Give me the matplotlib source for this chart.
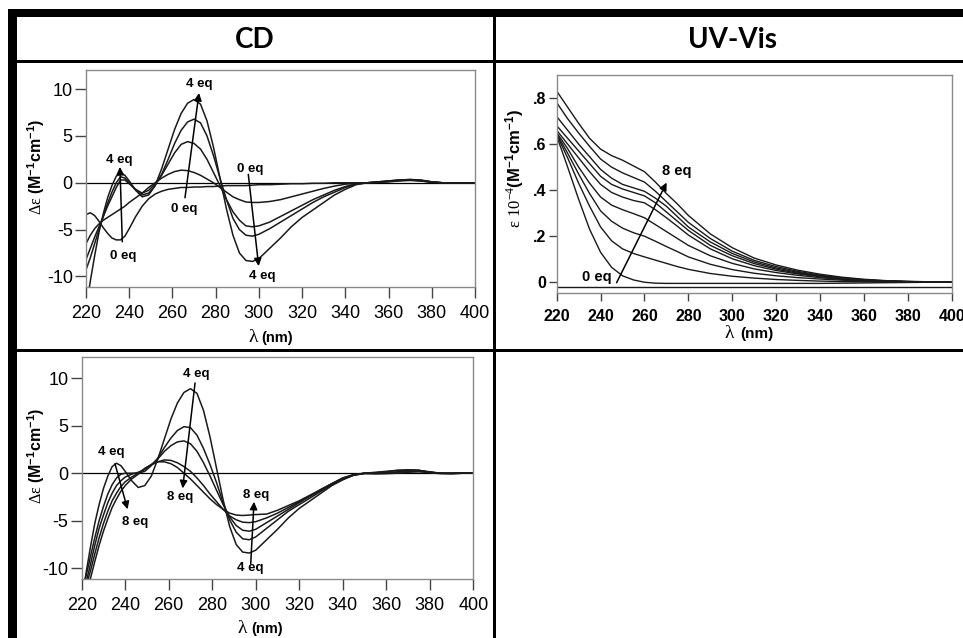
import matplotlib
matplotlib.use('Agg')
import matplotlib.pyplot as plt
from matplotlib.patches import Rectangle

plt.rcParams['font.family'] = ['Liberation Sans', 'DejaVu Sans']
plt.rcParams['mathtext.fontset'] = 'custom'
plt.rcParams['mathtext.rm'] = 'Liberation Serif'
plt.rcParams['mathtext.it'] = 'Liberation Serif'
plt.rcParams['mathtext.bf'] = 'Liberation Sans:bold'
plt.rcParams['axes.unicode_minus'] = False

# ---------------- data ----------------
wl_cd = [220, 222, 224, 226, 228, 230, 232, 234, 236, 238, 240,
         243, 246, 249, 252, 255, 258, 261, 264, 267, 270, 273, 276, 279, 282,
         285, 288, 291, 294, 297, 300,
         305, 310, 315, 320, 325, 330, 335, 340, 345, 350, 355, 360, 365, 370,
         375, 380, 385, 390, 395, 400]

cd_0eq = [-3.4, -3.2, -3.5, -4.1, -4.8, -5.4, -5.9, -6.1, -6.1, -5.7, -4.9,
          -3.6, -2.5, -1.7, -1.2, -0.9, -0.7, -0.6, -0.5, -0.5, -0.45, -0.45, -0.4, -0.4, -0.35,
          -0.3, -0.3, -0.3, -0.3, -0.25, -0.2,
          -0.2, -0.15, -0.1, -0.1, -0.05, -0.05, 0.0, 0.0, 0.0, 0.0, 0.05, 0.1, 0.2, 0.25,
          0.2, 0.05, 0.0, 0.0, 0.0, 0.0]
cd_1eq = [-6.5, -5.6, -4.9, -4.4, -4.0, -3.7, -3.4, -3.1, -2.8, -2.5, -2.1,
          -1.6, -1.1, -0.5, 0.0, 0.5, 0.9, 1.2, 1.35, 1.3, 1.1, 0.8, 0.4, 0.0, -0.5,
          -1.0, -1.5, -1.8, -2.05, -2.1, -2.1,
          -2.0, -1.8, -1.5, -1.2, -0.9, -0.6, -0.35, -0.15, -0.05, 0.0, 0.05, 0.15, 0.25, 0.3,
          0.25, 0.1, 0.0, 0.0, 0.0, 0.0]
cd_2eq = [-8.2, -7.0, -5.8, -4.7, -3.6, -2.5, -1.5, -0.5, 0.3, 0.3, -0.1,
          -0.7, -1.1, -0.8, -0.1, 0.8, 2.0, 3.2, 4.1, 4.4, 4.2, 3.6, 2.5, 1.1, -0.3,
          -1.8, -3.1, -4.0, -4.6, -4.7, -4.6,
          -4.2, -3.6, -3.0, -2.4, -1.8, -1.3, -0.8, -0.4, -0.1, 0.0, 0.1, 0.2, 0.3, 0.35,
          0.25, 0.1, 0.0, 0.0, 0.0, 0.0]
cd_3eq = [-9.3, -8.0, -6.5, -5.0, -3.6, -2.2, -1.0, 0.0, 0.65, 0.5, 0.0,
          -0.8, -1.3, -1.1, -0.3, 0.9, 2.5, 4.2, 5.6, 6.5, 6.8, 6.4, 5.0, 2.9, 0.5,
          -1.8, -3.8, -5.0, -5.6, -5.7, -5.5,
          -4.9, -4.2, -3.5, -2.8, -2.1, -1.5, -1.0, -0.5, -0.15, 0.0, 0.05, 0.15, 0.25, 0.3,
          0.2, 0.05, 0.0, 0.0, 0.0, 0.0]
cd_4eq = [-13.5, -10.5, -7.8, -5.3, -3.3, -1.6, -0.3, 0.7, 1.05, 0.8, 0.2,
          -0.8, -1.5, -1.3, -0.3, 1.5, 3.6, 5.7, 7.4, 8.5, 8.9, 8.4, 6.6, 3.8, 0.5,
          -2.8, -5.6, -7.5, -8.3, -8.4, -8.1,
          -7.0, -5.9, -4.7, -3.7, -2.9, -2.1, -1.3, -0.7, -0.2, 0.0, 0.1, 0.2, 0.3, 0.35,
          0.3, 0.1, 0.0, 0.0, 0.0, 0.0]
cd_5eq = [-12.5, -10.8, -8.8, -6.8, -5.0, -3.5, -2.2, -1.2, -0.5, -0.1, 0.0,
          0.0, 0.0, 0.2, 0.8, 1.6, 2.7, 3.7, 4.5, 4.9, 4.8, 4.0, 2.6, 0.9, -1.0,
          -3.1, -4.9, -6.2, -6.9, -7.0, -6.7,
          -5.8, -4.9, -4.0, -3.3, -2.6, -1.9, -1.2, -0.6, -0.2, 0.0, 0.05, 0.15, 0.3, 0.35,
          0.3, 0.1, 0.0, -0.05, 0.0, 0.0]
cd_6eq = [-13.0, -11.5, -9.6, -7.6, -5.8, -4.4, -3.1, -2.1, -1.3, -0.8, -0.4,
          -0.1, 0.1, 0.4, 0.9, 1.5, 2.3, 2.9, 3.3, 3.4, 3.1, 2.3, 1.1, -0.3, -1.8,
          -3.3, -4.6, -5.5, -6.0, -6.1, -5.9,
          -5.2, -4.5, -3.8, -3.1, -2.4, -1.8, -1.1, -0.6, -0.2, -0.05, -0.05, 0.0, 0.1, 0.2,
          0.2, 0.05, -0.05, -0.05, 0.0, 0.0]
cd_7eq = [-13.5, -12.0, -10.3, -8.5, -6.8, -5.3, -4.0, -2.9, -2.1, -1.4, -0.9,
          -0.4, 0.0, 0.5, 0.9, 1.2, 1.4, 1.35, 1.1, 0.7, 0.2, -0.5, -1.3, -2.2, -3.0,
          -3.8, -4.5, -4.9, -5.15, -5.2, -5.1,
          -4.7, -4.2, -3.6, -3.0, -2.4, -1.7, -1.1, -0.5, -0.15, 0.0, 0.0, 0.05, 0.15, 0.3,
          0.3, 0.15, 0.0, 0.0, 0.0, 0.0]
cd_8eq = [-14.0, -12.8, -11.1, -9.3, -7.6, -6.1, -4.8, -3.6, -2.7, -1.9, -1.3,
          -0.6, -0.1, 0.5, 0.9, 1.2, 1.2, 1.0, 0.6, 0.0, -0.6, -1.3, -2.0, -2.7, -3.3,
          -3.8, -4.2, -4.4, -4.45, -4.4, -4.35,
          -4.3, -3.9, -3.4, -2.9, -2.3, -1.7, -1.1, -0.5, -0.15, 0.0, -0.05, -0.05, 0.0, 0.1,
          0.15, 0.1, 0.0, 0.0, 0.0, 0.0]

wl_uv = [220, 225, 230, 235, 240, 245, 250, 255, 260, 265, 270, 275, 280,
         290, 300, 310, 320, 330, 340, 350, 360, 370, 380, 390, 400]
uv_0eq = [0.635, 0.50, 0.36, 0.23, 0.13, 0.065, 0.028, 0.01, 0.0, -0.004, -0.005, -0.005, -0.005,
          -0.005, -0.005, -0.005, -0.005, -0.005, -0.005, -0.004, -0.003, -0.002, -0.001, 0.0, 0.0]
uv_1eq = [0.64, 0.54, 0.43, 0.33, 0.24, 0.18, 0.145, 0.125, 0.11, 0.096, 0.082, 0.068, 0.056,
          0.038, 0.026, 0.018, 0.012, 0.008, 0.005, 0.003, 0.002, 0.001, 0.0, 0.0, 0.0]
uv_2eq = [0.645, 0.56, 0.47, 0.385, 0.31, 0.265, 0.235, 0.215, 0.20, 0.178, 0.155, 0.133, 0.11,
          0.078, 0.055, 0.039, 0.028, 0.02, 0.014, 0.009, 0.005, 0.003, 0.001, 0.0, 0.0]
uv_3eq = [0.65, 0.58, 0.50, 0.43, 0.37, 0.335, 0.315, 0.298, 0.28, 0.25, 0.22, 0.19, 0.16,
          0.115, 0.082, 0.058, 0.042, 0.030, 0.020, 0.012, 0.007, 0.004, 0.002, 0.001, 0.0]
uv_4eq = [0.66, 0.60, 0.54, 0.48, 0.425, 0.39, 0.37, 0.355, 0.345, 0.315, 0.28, 0.243, 0.205,
          0.145, 0.102, 0.072, 0.051, 0.036, 0.024, 0.015, 0.009, 0.005, 0.002, 0.001, 0.0]
uv_5eq = [0.68, 0.625, 0.57, 0.515, 0.46, 0.425, 0.405, 0.39, 0.375, 0.345, 0.305, 0.265, 0.225,
          0.16, 0.115, 0.081, 0.057, 0.039, 0.026, 0.016, 0.009, 0.005, 0.002, 0.001, 0.0]
uv_6eq = [0.72, 0.66, 0.60, 0.545, 0.49, 0.452, 0.425, 0.41, 0.395, 0.365, 0.33, 0.285, 0.24,
          0.175, 0.125, 0.088, 0.062, 0.043, 0.028, 0.017, 0.010, 0.005, 0.003, 0.001, 0.0]
uv_7eq = [0.78, 0.71, 0.648, 0.59, 0.535, 0.50, 0.475, 0.455, 0.435, 0.395, 0.35, 0.305, 0.26,
          0.19, 0.135, 0.095, 0.068, 0.047, 0.031, 0.019, 0.011, 0.006, 0.003, 0.001, 0.0]
uv_8eq = [0.83, 0.76, 0.69, 0.625, 0.578, 0.55, 0.53, 0.505, 0.48, 0.435, 0.385, 0.34, 0.29,
          0.21, 0.15, 0.105, 0.075, 0.052, 0.035, 0.022, 0.013, 0.007, 0.004, 0.002, 0.0]
uv_baseline = -0.019

x_ticks = [220, 240, 260, 280, 300, 320, 340, 360, 380, 400]
cd_yticks = [-10, -5, 0, 5, 10]
uv_yticks = [0.0, 0.2, 0.4, 0.6, 0.8]
uv_yticklabels = ['0', '.2', '.4', '.6', '.8']
headers = ['CD', 'UV-Vis']

# ---------------- layout helpers ----------------
W, H = 963, 638
fig = plt.figure(figsize=(W / 100, H / 100), dpi=100)


def rect(l, t, r, b):
    return [l / W, 1 - b / H, (r - l) / W, (b - t) / H]


def fx(x):
    return x / W


def fy(y):
    return 1 - y / H


def bar(x0, y0, x1, y1):
    fig.add_artist(Rectangle((fx(x0), fy(y1)), (x1 - x0) / W, (y1 - y0) / H,
                             transform=fig.transFigure, facecolor='black',
                             edgecolor='none', zorder=5))


# table lines
bar(8, 9, W, 17.3)        # top band
bar(8, 9, 16.7, H)        # left band
bar(8, 60, W, 63.3)       # under header
bar(8, 349, W, 352.3)     # middle row line
bar(493, 17, 496.3, H)    # column divider

fig.text(fx(255), fy(40), headers[0], ha='center', va='center', fontsize=20,
         fontweight='bold', family=['Lato', 'DejaVu Sans'])
fig.text(fx(732), fy(40), headers[1], ha='center', va='center', fontsize=20,
         fontweight='bold', family=['Lato', 'DejaVu Sans'])

LINE = '#1a1a1a'
FRAME = '#8a8a8a'


def style(ax, ylen=8, xlen=8, size=13, weight='normal'):
    for s in ax.spines.values():
        s.set_color(FRAME)
        s.set_linewidth(1.0)
    ax.tick_params(axis='both', direction='out', color='#444444', width=1.0,
                   labelsize=size, top=False, right=False)
    ax.tick_params(axis='y', length=ylen, pad=1.5)
    ax.tick_params(axis='x', length=xlen, pad=5)
    for lab in ax.get_xticklabels() + ax.get_yticklabels():
        lab.set_fontweight(weight)


def arrow(ax, p_from, p_to):
    ax.annotate('', xy=p_to, xytext=p_from,
                arrowprops=dict(arrowstyle='-|>,head_length=0.45,head_width=0.22',
                                color='black', lw=1.1, shrinkA=0, shrinkB=0,
                                mutation_scale=10))


def label(ax, x, y, s, size=9.5):
    ax.text(x, y, s, ha='center', va='center', fontsize=size, fontweight='bold')


# ---------------- CD top (0 -> 4 eq) ----------------
ax1 = fig.add_axes(rect(86, 70, 475, 286.7))
ax1.axhline(0, color='black', lw=0.9)
for series in [cd_0eq, cd_1eq, cd_2eq, cd_3eq, cd_4eq]:
    ax1.plot(wl_cd, series, color=LINE, lw=1.1)
ax1.set_xlim(220, 400)
ax1.set_ylim(-11.1, 12.05)
ax1.set_xticks(x_ticks)
ax1.set_yticks(cd_yticks)
style(ax1)
arrow(ax1, (236.8, -6.3), (235.7, 1.7))
label(ax1, 235.3, 2.4, '4 eq')
label(ax1, 237.0, -7.8, '0 eq')
arrow(ax1, (265.8, -1.6), (272.3, 9.6))
label(ax1, 272.4, 10.6, '4 eq')
label(ax1, 265.5, -2.85, '0 eq')
arrow(ax1, (295.1, 0.9), (299.9, -8.9))
label(ax1, 295.9, 1.5, '0 eq')
label(ax1, 301.6, -10.0, '4 eq')

# ---------------- CD bottom (4 -> 8 eq) ----------------
ax2 = fig.add_axes(rect(81.7, 357.3, 473.3, 578.7))
ax2.axhline(0, color='black', lw=0.9)
for series in [cd_4eq, cd_5eq, cd_6eq, cd_7eq, cd_8eq]:
    ax2.plot(wl_cd, series, color=LINE, lw=1.1)
ax2.set_xlim(220, 400)
ax2.set_ylim(-11.1, 12.2)
ax2.set_xticks(x_ticks)
ax2.set_yticks(cd_yticks)
style(ax2)
arrow(ax2, (235.3, 1.0), (241.1, -3.8))
label(ax2, 233.8, 2.2, '4 eq')
label(ax2, 244.5, -5.1, '8 eq')
arrow(ax2, (272.1, 9.5), (266.4, -1.6))
label(ax2, 272.8, 10.4, '4 eq')
label(ax2, 265.2, -2.5, '8 eq')
arrow(ax2, (297.7, -9.5), (299.2, -3.0))
label(ax2, 300.1, -2.3, '8 eq')
label(ax2, 297.3, -10.0, '4 eq')

# ---------------- UV-Vis ----------------
ax3 = fig.add_axes(rect(556.7, 75, 951.7, 293.3))
ax3.axhline(uv_baseline, color=LINE, lw=1.0)
for series in [uv_0eq, uv_1eq, uv_2eq, uv_3eq, uv_4eq, uv_5eq, uv_6eq, uv_7eq, uv_8eq]:
    ax3.plot(wl_uv, series, color=LINE, lw=1.0)
ax3.set_xlim(220, 400)
ax3.set_ylim(-0.048, 0.90)
ax3.set_xticks(x_ticks)
ax3.set_yticks(uv_yticks)
ax3.set_yticklabels(uv_yticklabels)
style(ax3, ylen=6, xlen=6, size=11.5, weight='bold')
arrow(ax3, (247.3, -0.002), (270.1, 0.433))
label(ax3, 274.7, 0.485, '8 eq', size=10.5)
label(ax3, 238.5, 0.024, '0 eq', size=10.5)

# ---------------- axis labels ----------------
cd_ylab = r'$\Delta\varepsilon\ \mathbf{(M^{-1}cm^{-1})}$'
fig.text(fx(36), fy(167), cd_ylab, rotation=90, ha='center', va='center', fontsize=11.5)
fig.text(fx(36), fy(456), cd_ylab, rotation=90, ha='center', va='center', fontsize=11.5)
fig.text(fx(515), fy(168.5), r'$\varepsilon\ 10^{-4}\mathbf{(M^{-1}cm^{-1})}$',
         rotation=90, ha='center', va='center', fontsize=12)


def xlab(xl, xr, ybase, gap_lambda=14, nm=10.5):
    fig.text(fx(xl), fy(ybase), r'$\lambda$', ha='right', va='baseline', fontsize=gap_lambda)
    fig.text(fx(xr), fy(ybase), '(nm)', ha='left', va='baseline', fontsize=nm,
             fontweight='bold')


xlab(259, 261, 342)
xlab(248.5, 251, 633)
xlab(735.5, 740.7, 338, gap_lambda=14, nm=11)

fig.savefig('out.png', dpi=100)
